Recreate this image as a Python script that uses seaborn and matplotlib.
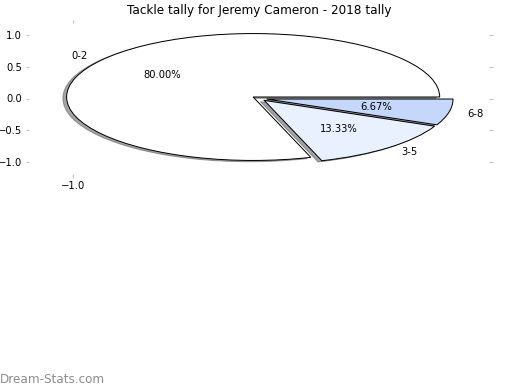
import matplotlib
matplotlib.use("Agg")
import matplotlib.pyplot as plt
import seaborn as sns
from matplotlib.ticker import FuncFormatter

player = "Jeremy Cameron"
season = 2018
tally_ranges = ["0-2", "3-5", "6-8"]
games = [12, 2, 1]
slice_colors = ["#ffffff", "#e9f0fe", "#c5d8fb"]
explode = [0.04, 0.04, 0.04]

sns.set_style("white", {"text.color": "black", "xtick.color": "black",
                        "ytick.color": "black"})
plt.rcParams["font.family"] = ["DejaVu Sans"]

fig = plt.figure(figsize=(520 / 72, 390 / 72), dpi=72)
ax = fig.add_axes([29 / 520, 216 / 390, 460 / 520, 151 / 390])

ax.pie(games, labels=tally_ranges, colors=slice_colors, explode=explode,
       autopct="%.2f%%", shadow=True, frame=True,
       wedgeprops={"edgecolor": "black", "linewidth": 1.0},
       textprops={"fontsize": 10, "color": "black"})

ax.set_aspect("auto")
ax.set_xlim(-1.234, 1.232)
ax.set_ylim(-1.19, 1.19)
ax.set_xticks([-1.0])
ax.set_yticks([-1.0, -0.5, 0.0, 0.5, 1.0])
fmt = FuncFormatter(lambda v, p: f"{v:.1f}".replace("-", "\u2212"))
ax.xaxis.set_major_formatter(fmt)
ax.yaxis.set_major_formatter(fmt)
for s in ax.spines.values():
    s.set_visible(False)
ax.tick_params(axis="both", which="both", direction="out", length=3.5,
               width=1.2, color="#c4c4c4", labelcolor="black", labelsize=10,
               top=True, right=True, bottom=True, left=True,
               labeltop=False, labelright=False)
ax.set_title(f"Tackle tally for {player} - {season} tally", fontsize=12,
             color="black", y=1.06, pad=0)

fig.text(0.0, 390 - 383, "Dream-Stats.com", transform=None, fontsize=12,
         color="#8c8c8c", va="baseline", ha="left")

fig.savefig("out.png", dpi=72)
